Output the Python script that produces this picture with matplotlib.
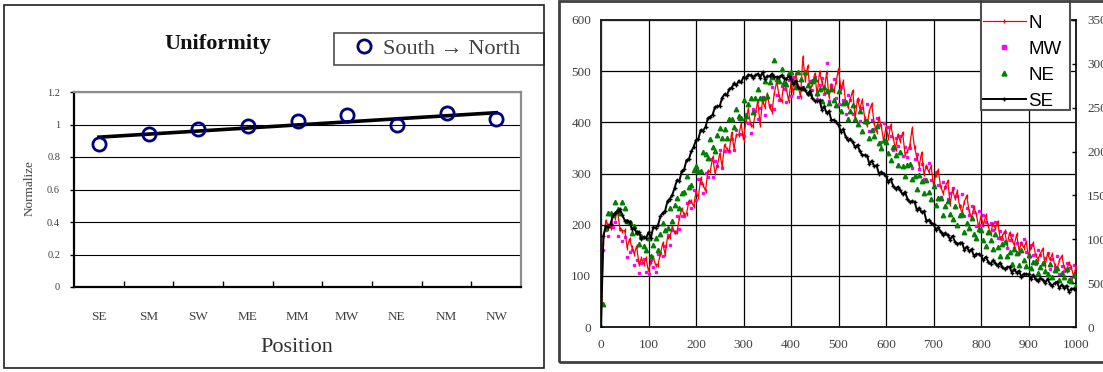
import numpy as np
import matplotlib
matplotlib.use("Agg")
import matplotlib.pyplot as plt
from matplotlib.patches import Rectangle

W, H = 1103, 372

# ---------------- data: left chart ----------------
positions = ['SE', 'SM', 'SW', 'ME', 'MM', 'MW', 'NE', 'NM', 'NW']
normalized = [0.881, 0.941, 0.974, 0.990, 1.024, 1.060, 1.000, 1.070, 1.036]
y_ticks_left = [0, 0.2, 0.4, 0.6, 0.8, 1.0, 1.2]
y_ticklabels_left = ['0', '0.2', '0.4', '0.6', '0.8', '1', '1.2']

# ---------------- data: right chart (read every 5 units) ----------------
x_pos = list(range(0, 1001, 5))

n_vals = [0, 165, 208, 199, 193, 218, 214, 225, 191, 187, 189, 155, 172, 156, 143, 158, 123, 134, 123, 134,
          109, 127, 137, 121, 122, 143, 164, 142, 176, 175, 196, 185, 186, 213, 231, 220, 221, 246, 246, 236,
          264, 254, 291, 277, 266, 305, 304, 332, 301, 316, 339, 314, 356, 348, 343, 380, 349, 376, 375, 397,
          366, 403, 426, 395, 392, 417, 442, 395, 442, 430, 456, 429, 421, 458, 480, 451, 441, 476, 466, 442,
          478, 457, 496, 471, 450, 528, 482, 510, 462, 474, 495, 454, 498, 479, 462, 498, 450, 473, 461, 479,
          505, 465, 480, 440, 429, 446, 462, 407, 446, 426, 444, 409, 394, 422, 436, 398, 381, 409, 393, 363,
          391, 369, 395, 370, 348, 376, 363, 380, 338, 343, 355, 388, 351, 332, 315, 341, 299, 315, 303, 314,
          277, 298, 307, 274, 262, 274, 286, 240, 269, 252, 265, 236, 223, 245, 257, 226, 213, 234, 221, 195,
          217, 199, 218, 199, 181, 202, 193, 206, 174, 178, 187, 160, 184, 171, 160, 181, 150, 164, 155, 166,
          139, 156, 164, 140, 133, 143, 153, 120, 143, 132, 142, 122, 113, 130, 139, 118, 109, 126, 117, 99,
          118]

mw_vals = [0, 150, 189, 177, 206, 195, 205, 178, 191, 169, 176, 137, 146, 151, 122, 130, 106, 125, 132, 108,
           104, 131, 117, 107, 142, 145, 139, 159, 180, 160, 190, 185, 216, 191, 217, 217, 243, 244, 232, 268,
           248, 289, 281, 261, 301, 294, 329, 293, 325, 314, 346, 310, 344, 367, 343, 367, 346, 385, 406, 378,
           374, 416, 398, 380, 426, 423, 406, 428, 449, 414, 448, 433, 470, 426, 453, 443, 471, 465, 439, 482,
           452, 488, 475, 449, 483, 469, 498, 456, 481, 464, 488, 445, 472, 487, 455, 515, 442, 472, 484, 447,
           435, 469, 443, 416, 454, 443, 417, 431, 444, 402, 428, 405, 435, 384, 404, 387, 408, 395, 362, 399,
           363, 390, 373, 346, 370, 354, 374, 335, 352, 332, 350, 310, 329, 338, 308, 318, 290, 313, 321, 287,
           275, 302, 278, 254, 284, 274, 251, 261, 272, 235, 256, 236, 260, 216, 233, 219, 236, 225, 197, 227,
           199, 219, 206, 183, 203, 189, 206, 173, 188, 172, 186, 154, 170, 179, 155, 165, 144, 164, 172, 146,
           136, 160, 141, 123, 150, 141, 124, 134, 144, 114, 133, 118, 139, 104, 120, 109, 125, 116, 95, 122,
           98]

ne_vals = [0, 45, 194, 222, 222, 218, 245, 231, 222, 244, 233, 207, 206, 184, 198, 185, 162, 178, 159, 150,
           173, 139, 160, 173, 151, 181, 204, 190, 194, 232, 207, 238, 253, 232, 262, 263, 295, 274, 278, 307,
           315, 305, 304, 342, 338, 330, 368, 352, 344, 376, 389, 370, 386, 370, 407, 406, 391, 426, 412, 409,
           443, 413, 436, 447, 421, 447, 465, 448, 447, 480, 451, 478, 488, 522, 484, 480, 505, 478, 475, 497,
           498, 480, 469, 498, 485, 468, 498, 473, 457, 480, 485, 458, 466, 442, 470, 461, 438, 466, 444, 434,
           461, 423, 437, 440, 406, 423, 433, 406, 397, 422, 384, 402, 403, 369, 385, 374, 392, 359, 350, 366,
           362, 340, 327, 352, 336, 316, 342, 314, 295, 316, 319, 289, 296, 270, 297, 286, 261, 287, 263, 251,
           276, 238, 252, 253, 219, 236, 246, 220, 211, 236, 199, 218, 220, 186, 204, 193, 213, 182, 174, 192,
           190, 170, 158, 185, 171, 153, 181, 156, 139, 162, 166, 139, 147, 124, 153, 145, 122, 151, 130, 120,
           140, 116, 127, 129, 106, 118, 126, 109, 104, 123, 98, 111, 115, 92, 105, 98, 114, 92, 89, 102,
           83]

se_vals = [0, 178, 197, 196, 201, 218, 223, 227, 230, 219, 208, 208, 205, 191, 193, 184, 186, 172, 176, 174,
           185, 174, 195, 194, 199, 216, 223, 227, 246, 251, 258, 272, 287, 285, 305, 308, 326, 328, 343, 352,
           365, 368, 385, 384, 391, 408, 411, 415, 430, 431, 432, 448, 455, 453, 465, 468, 476, 472, 481, 478,
           489, 486, 493, 492, 487, 492, 495, 487, 498, 485, 490, 490, 495, 489, 489, 488, 492, 486, 485, 490,
           485, 474, 481, 470, 465, 468, 463, 455, 461, 447, 442, 442, 443, 425, 431, 418, 422, 404, 405, 400,
           395, 382, 387, 372, 365, 368, 361, 351, 356, 343, 336, 336, 335, 319, 325, 314, 316, 300, 303, 300,
           296, 284, 289, 276, 270, 274, 267, 259, 264, 251, 244, 246, 245, 229, 233, 224, 226, 208, 209, 204,
           201, 190, 195, 186, 180, 184, 179, 171, 178, 167, 162, 164, 165, 151, 157, 148, 152, 139, 143, 142,
           140, 131, 137, 128, 123, 130, 125, 119, 126, 117, 113, 117, 118, 106, 113, 106, 110, 98, 104, 103,
           103, 94, 102, 93, 89, 96, 92, 86, 94, 85, 81, 86, 88, 76, 83, 76, 81, 69, 75, 75,
           75]

x_ticks_right = list(range(0, 1001, 100))
y_ticks_right = list(range(0, 601, 100))
y2_ticks_right = list(range(0, 3501, 500))

series_names = ['N', 'MW', 'NE', 'SE']


def rect(l, t, r, b):
    return [l / W, 1 - b / H, (r - l) / W, (b - t) / H]


def fbox(l, t, r, b):
    return (l / W, 1 - b / H, (r - l) / W, (b - t) / H)


serif = ['Liberation Serif', 'DejaVu Serif']
sans = ['Liberation Sans', 'DejaVu Sans']
tick_color = '#404040'

fig = plt.figure(figsize=(W / 100, H / 100), dpi=100)
fig.patch.set_facecolor('white')

# panel borders
fig.patches.append(Rectangle((4 / W, 1 - 368 / H), 540 / W, 363 / H, transform=fig.transFigure,
                             fill=False, edgecolor='#202020', linewidth=1.2))
fig.patches.append(Rectangle((559 / W, 1 - 362 / H), 560 / W, 361 / H, transform=fig.transFigure,
                             fill=False, edgecolor='#404040', linewidth=2.0))

# ---------------- left chart ----------------
ax = fig.add_axes(rect(74, 92, 521, 287))
xi = np.arange(len(positions))
ax.plot(xi, normalized, linestyle='none', marker='o', markersize=9.5, markerfacecolor='none',
        markeredgecolor='#000080', markeredgewidth=2.0, label='South \u2192 North', zorder=4)
coef = np.polyfit(xi, normalized, 1)
ax.plot(xi, np.polyval(coef, xi), color='black', linewidth=2.6, zorder=3)
ax.set_xlim(-0.5, len(positions) - 0.5)
ax.set_ylim(0, 1.2)
ax.set_yticks(y_ticks_left)
ax.set_yticklabels(y_ticklabels_left, fontfamily=serif, fontsize=7.5, color=tick_color)
ax.set_xticks(xi)
ax.set_xticklabels(positions, fontfamily=serif, fontsize=9.5, color=tick_color)
ax.set_xticks(np.arange(0.5, len(positions) - 1, 1), minor=True)
ax.tick_params(axis='x', which='major', length=0, pad=17)
ax.tick_params(axis='x', which='minor', direction='in', length=4, width=1, color='black')
ax.tick_params(axis='y', length=3, width=1, pad=7)
ax.yaxis.grid(True, color='black', linewidth=0.8)
ax.set_axisbelow(True)
for s in ['left', 'bottom']:
    ax.spines[s].set_color('black')
    ax.spines[s].set_linewidth(1.6)
for s in ['top', 'right']:
    ax.spines[s].set_color('#8c8c8c')
    ax.spines[s].set_linewidth(1.6)
ax.set_xlabel('Position', fontfamily=serif, fontsize=16, color='#303030')
ax.xaxis.set_label_coords((297 - 74) / 447, (287 - 347) / 195)
ax.xaxis.label.set_va('center')
ax.set_ylabel('Normalize', fontfamily=serif, fontsize=9.5, color='#404040')
ax.yaxis.set_label_coords((30 - 74) / 447, (287 - 188) / 195)
ax.yaxis.label.set_va('center')

fig.text(218 / W, 1 - 44 / H, 'Uniformity', fontfamily=serif, fontsize=16, fontweight='bold',
         ha='center', va='center', color='#111111')

leg1 = ax.legend(loc='upper left', bbox_to_anchor=fbox(334, 33, 544, 70), bbox_transform=fig.transFigure,
                 mode='expand', prop={'family': serif, 'size': 16}, frameon=True, fancybox=False,
                 borderaxespad=0, borderpad=0.25, handlelength=2.2, handletextpad=-0.25, numpoints=1)
leg1.get_frame().set_edgecolor('#202020')
leg1.get_frame().set_linewidth(1.2)
for t in leg1.get_texts():
    t.set_color('#404040')

# ---------------- right chart ----------------
bx = fig.add_axes(rect(601, 20, 1076, 327))
bx.plot(x_pos, mw_vals, linestyle='none', marker='s', markersize=2.0, color='#ff00ff',
        label=series_names[1], zorder=2)
bx.plot(x_pos, n_vals, color='#ff0000', linewidth=0.9, marker='|', markersize=2.5,
        label=series_names[0], zorder=3)
bx.plot(x_pos, ne_vals, linestyle='none', marker='^', markersize=3.2, color='#008000',
        label=series_names[2], zorder=4)
bx.plot(x_pos, se_vals, color='black', linewidth=1.4, marker='+', markersize=3,
        label=series_names[3], zorder=5)
bx.set_xlim(0, 1000)
bx.set_ylim(0, 600)
bx.set_xticks(x_ticks_right)
bx.set_xticklabels([str(v) for v in x_ticks_right], fontfamily=serif, fontsize=9.5, color=tick_color)
bx.set_yticks(y_ticks_right)
bx.set_yticklabels([str(v) for v in y_ticks_right], fontfamily=serif, fontsize=9.5, color=tick_color)
bx.tick_params(axis='x', length=0, pad=9)
bx.tick_params(axis='y', length=0, pad=7)
bx.grid(True, color='black', linewidth=0.9)
bx.set_axisbelow(True)
for s in bx.spines.values():
    s.set_color('#202020')
    s.set_linewidth(1.4)

bx2 = bx.twinx()
bx2.set_ylim(0, 3500)
bx2.set_yticks(y2_ticks_right)
bx2.set_yticklabels([str(v) for v in y2_ticks_right], fontfamily=serif, fontsize=9.5, color=tick_color)
bx2.tick_params(axis='y', direction='in', length=3, width=1, pad=8, color='black')
for s in bx2.spines.values():
    s.set_visible(False)

# legend box (its top runs past the top edge of the picture, as in the reference)
bx2.add_patch(Rectangle((981 / W, 1 - 110 / H), 89 / W, 120 / H, transform=fig.transFigure,
                        facecolor='white', edgecolor='#505050', linewidth=1.5, clip_on=False, zorder=9))
h, l = bx.get_legend_handles_labels()
order = [l.index(nm) for nm in series_names]
leg2 = bx2.legend([h[i] for i in order], [l[i] for i in order], loc='lower left',
                  bbox_to_anchor=fbox(981, -20, 1070, 111), bbox_transform=fig.transFigure,
                  mode='expand', prop={'family': sans, 'size': 13.5}, frameon=False,
                  borderaxespad=0, borderpad=0.08, handlelength=2.3, handletextpad=0.15,
                  labelspacing=0.47, markerscale=1.1, numpoints=1)
leg2.set_zorder(10)

fig.savefig('out.png', dpi=100, facecolor='white')
